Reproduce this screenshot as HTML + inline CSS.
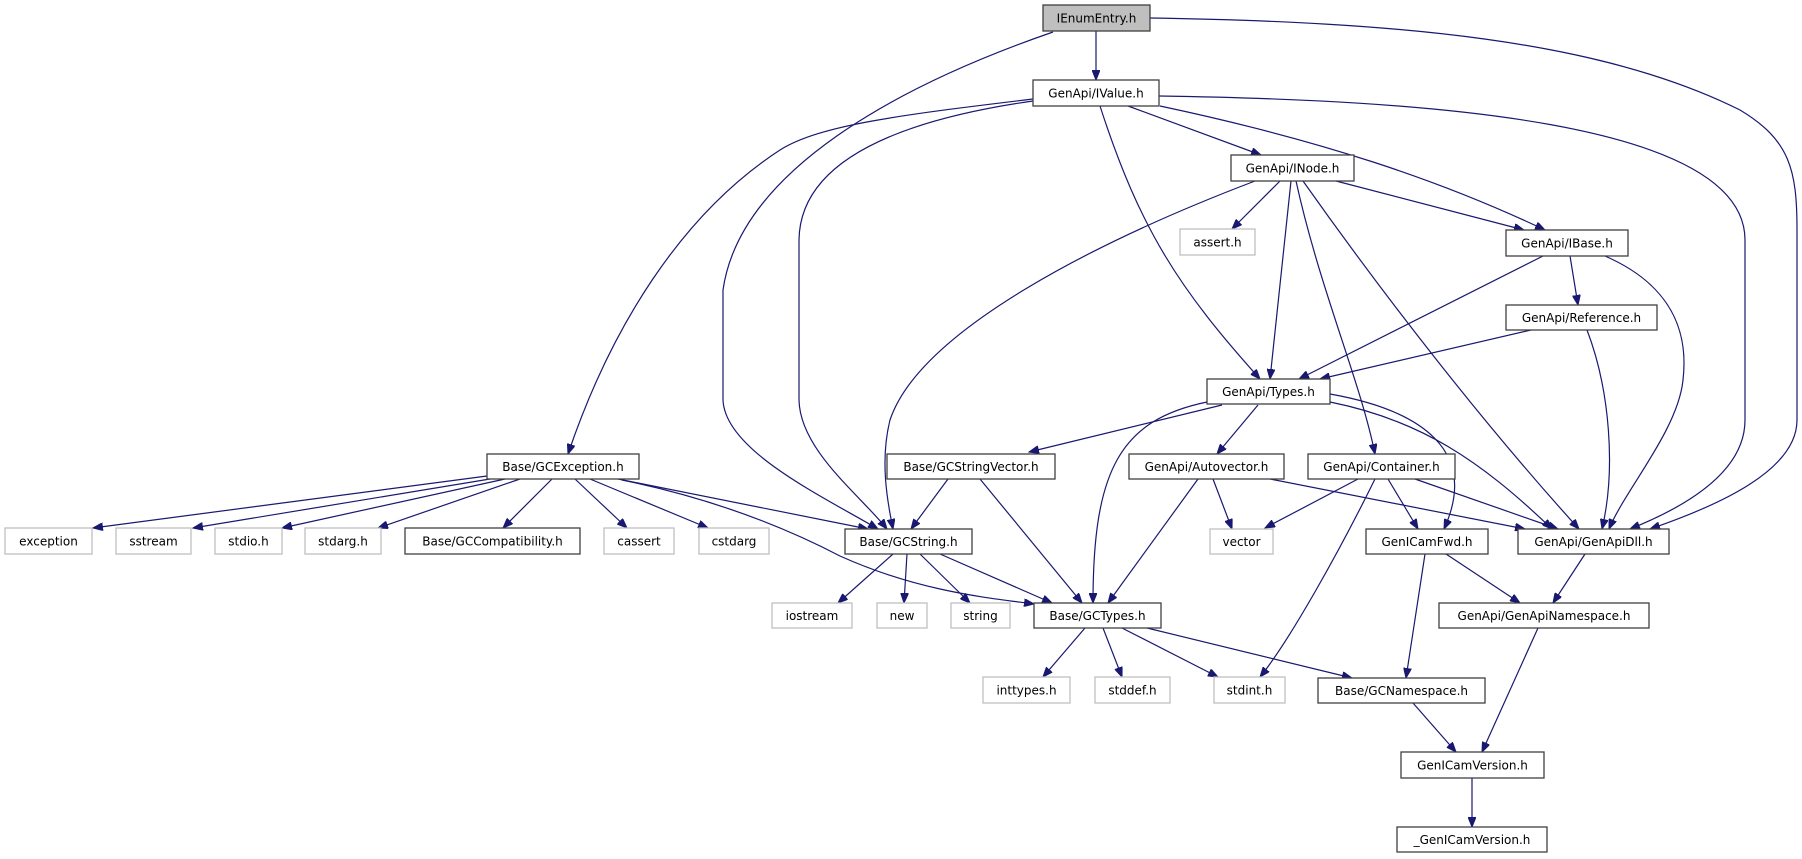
<!DOCTYPE html>
<html><head><meta charset="utf-8"><style>
html,body{margin:0;padding:0;background:#fff;}
svg{display:block;}
text{font-family:"DejaVu Sans","Liberation Sans",sans-serif;font-size:12px;text-anchor:middle;fill:#000;}
.e{fill:none;stroke:#191970;stroke-width:1.2;marker-end:url(#a);}
.n{fill:#fff;stroke:#404040;stroke-width:1.3;}
.g{fill:#fff;stroke:#bfbfbf;stroke-width:1.3;}
</style></head><body>
<svg width="1802" height="859" viewBox="0 0 1802 859" xmlns="http://www.w3.org/2000/svg">
<defs><marker id="a" markerUnits="userSpaceOnUse" markerWidth="11" markerHeight="8" refX="10" refY="4" orient="auto"><path d="M0,0 L10,4 L0,8 z" fill="#191970" stroke="#191970"/></marker></defs>
<!-- edges -->
<path class="e" d="M1096,31 L1096,80"/>
<path class="e" d="M1053,32 C900,85 740,170 723,290 L723,400 C725,450 820,495 878,529"/>
<path class="e" d="M1150,18 C1400,22 1600,40 1740,110 C1790,140 1797,170 1797,230 L1797,420 C1797,470 1720,505 1650,529"/>
<path class="e" d="M1033,99 C900,115 820,125 780,150 C680,215 610,330 568,454"/>
<path class="e" d="M1033,101 C900,120 800,160 799,240 L799,400 C800,450 860,495 887,529"/>
<path class="e" d="M1128,106 L1261,155"/>
<path class="e" d="M1100,106 C1140,230 1180,290 1260,379"/>
<path class="e" d="M1160,106 C1320,140 1440,180 1545,230"/>
<path class="e" d="M1159,96 C1420,100 1745,120 1745,240 L1745,420 C1745,470 1690,505 1630,529"/>
<path class="e" d="M1280,181 L1232,229"/>
<path class="e" d="M1291,181 L1270,379"/>
<path class="e" d="M1255,181 C1100,240 920,330 890,420 C880,460 887,500 893,529"/>
<path class="e" d="M1296,181 C1320,290 1360,380 1375,454"/>
<path class="e" d="M1303,181 C1380,290 1480,420 1579,529"/>
<path class="e" d="M1336,181 L1524,230"/>
<path class="e" d="M1570,256 L1578,305"/>
<path class="e" d="M1543,256 L1299,379"/>
<path class="e" d="M1605,256 C1660,280 1690,320 1683,380 C1678,430 1625,490 1609,529"/>
<path class="e" d="M1531,330 L1320,379"/>
<path class="e" d="M1587,330 C1610,390 1616,470 1602,529"/>
<path class="e" d="M1222,405 L1029,452"/>
<path class="e" d="M1258,405 L1217,454"/>
<path class="e" d="M1207,402 C1120,420 1093,470 1093,603"/>
<path class="e" d="M1330,394 C1420,410 1480,450 1444,529"/>
<path class="e" d="M1330,402 C1420,420 1480,460 1552,529"/>
<path class="e" d="M948,479 L911,529"/>
<path class="e" d="M980,479 L1082,603"/>
<path class="e" d="M1213,479 L1232,529"/>
<path class="e" d="M1198,479 L1108,603"/>
<path class="e" d="M1270,479 L1525,529"/>
<path class="e" d="M1358,479 L1265,528"/>
<path class="e" d="M1375,479 C1340,550 1290,640 1260,677"/>
<path class="e" d="M1388,479 L1418,529"/>
<path class="e" d="M1415,479 L1558,529"/>
<path class="e" d="M1446,554 L1520,603"/>
<path class="e" d="M1425,554 L1406,678"/>
<path class="e" d="M1585,554 L1553,603"/>
<path class="e" d="M1538,628 L1482,752"/>
<path class="e" d="M1413,703 L1456,752"/>
<path class="e" d="M1472,778 L1472,827"/>
<path class="e" d="M1085,628 L1043,677"/>
<path class="e" d="M1103,628 L1122,677"/>
<path class="e" d="M1122,628 L1218,677"/>
<path class="e" d="M1147,628 L1352,678"/>
<path class="e" d="M893,554 L838,603"/>
<path class="e" d="M907,554 L904,603"/>
<path class="e" d="M920,554 L970,603"/>
<path class="e" d="M940,554 L1052,603"/>
<path class="e" d="M487,476 L93,528"/>
<path class="e" d="M490,479 L193,528"/>
<path class="e" d="M505,479 L282,528"/>
<path class="e" d="M520,479 L378,528"/>
<path class="e" d="M552,479 L503,528"/>
<path class="e" d="M575,479 L627,528"/>
<path class="e" d="M590,479 L708,528"/>
<path class="e" d="M618,479 L868,529"/>
<path class="e" d="M622,480 C720,500 790,530 840,556 C920,592 990,598 1034,604"/>
<!-- nodes -->
<rect x="1043" y="5" width="107" height="26" fill="#bfbfbf" stroke="#404040" stroke-width="1.3"/><text x="1096.5" y="22.5">IEnumEntry.h</text>
<rect class="n" x="1033" y="80" width="126" height="26"/><text x="1096" y="97.5">GenApi/IValue.h</text>
<rect class="n" x="1231" y="155" width="123" height="26"/><text x="1292.5" y="172.5">GenApi/INode.h</text>
<rect class="g" x="1180" y="229" width="75" height="26"/><text x="1217.5" y="246.5">assert.h</text>
<rect class="n" x="1506" y="230" width="122" height="26"/><text x="1567" y="247.5">GenApi/IBase.h</text>
<rect class="n" x="1506" y="305" width="151" height="25"/><text x="1581.5" y="322">GenApi/Reference.h</text>
<rect class="n" x="1207" y="379" width="123" height="25"/><text x="1268.5" y="396">GenApi/Types.h</text>
<rect class="n" x="487" y="454" width="152" height="25"/><text x="563" y="471">Base/GCException.h</text>
<rect class="n" x="887" y="454" width="168" height="25"/><text x="971" y="471">Base/GCStringVector.h</text>
<rect class="n" x="1129" y="454" width="155" height="25"/><text x="1206.5" y="471">GenApi/Autovector.h</text>
<rect class="n" x="1308" y="454" width="147" height="25"/><text x="1381.5" y="471">GenApi/Container.h</text>
<rect class="g" x="5" y="528" width="87" height="26"/><text x="48.5" y="545.5">exception</text>
<rect class="g" x="116" y="528" width="75" height="26"/><text x="153.5" y="545.5">sstream</text>
<rect class="g" x="215" y="528" width="67" height="26"/><text x="248.5" y="545.5">stdio.h</text>
<rect class="g" x="305" y="528" width="76" height="26"/><text x="343" y="545.5">stdarg.h</text>
<rect class="n" x="405" y="528" width="175" height="26"/><text x="492.5" y="545.5">Base/GCCompatibility.h</text>
<rect class="g" x="604" y="528" width="70" height="26"/><text x="639" y="545.5">cassert</text>
<rect class="g" x="699" y="528" width="70" height="26"/><text x="734" y="545.5">cstdarg</text>
<rect class="n" x="845" y="529" width="127" height="25"/><text x="908.5" y="546">Base/GCString.h</text>
<rect class="g" x="1210" y="529" width="63" height="25"/><text x="1241.5" y="546">vector</text>
<rect class="n" x="1366" y="529" width="122" height="25"/><text x="1427" y="546">GenICamFwd.h</text>
<rect class="n" x="1518" y="529" width="151" height="25"/><text x="1593.5" y="546">GenApi/GenApiDll.h</text>
<rect class="g" x="772" y="603" width="80" height="25"/><text x="812" y="620">iostream</text>
<rect class="g" x="877" y="603" width="50" height="25"/><text x="902" y="620">new</text>
<rect class="g" x="951" y="603" width="59" height="25"/><text x="980.5" y="620">string</text>
<rect class="n" x="1034" y="603" width="127" height="25"/><text x="1097.5" y="620">Base/GCTypes.h</text>
<rect class="n" x="1439" y="603" width="210" height="25"/><text x="1544" y="620">GenApi/GenApiNamespace.h</text>
<rect class="g" x="983" y="677" width="87" height="26"/><text x="1026.5" y="694.5">inttypes.h</text>
<rect class="g" x="1095" y="677" width="75" height="26"/><text x="1132.5" y="694.5">stddef.h</text>
<rect class="g" x="1214" y="677" width="71" height="26"/><text x="1249.5" y="694.5">stdint.h</text>
<rect class="n" x="1318" y="678" width="167" height="25"/><text x="1401.5" y="695">Base/GCNamespace.h</text>
<rect class="n" x="1401" y="752" width="143" height="26"/><text x="1472.5" y="769.5">GenICamVersion.h</text>
<rect class="n" x="1397" y="827" width="150" height="25"/><text x="1472" y="844">_GenICamVersion.h</text>
</svg>
</body></html>
